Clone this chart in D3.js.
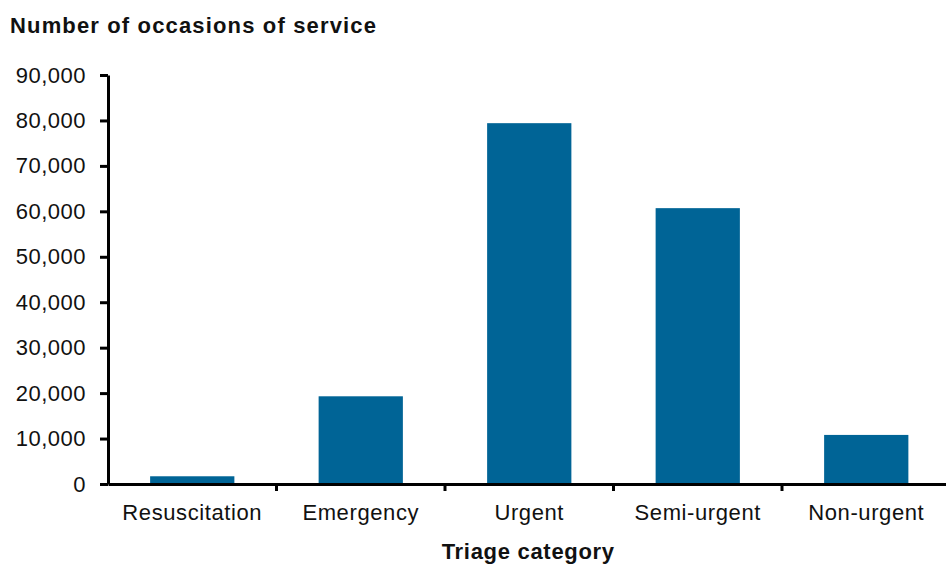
<!DOCTYPE html>
<html>
<head>
<meta charset="utf-8">
<script src="https://cdn.jsdelivr.net/npm/d3@7"></script>
<style>
  html, body { margin: 0; padding: 0; background: #fff; }
  svg { display: block; }
  text { font-family: "Liberation Sans", Arial, sans-serif; fill: #111; }
</style>
</head>
<body>
<svg id="chart" width="946" height="564"></svg>
<script>
const categories = ["Resuscitation", "Emergency", "Urgent", "Semi-urgent", "Non-urgent"];
const values = [1700, 19300, 79400, 60700, 10800];
const yTicks = [0, 10000, 20000, 30000, 40000, 50000, 60000, 70000, 80000, 90000];
const yTitle = "Number of occasions of service";
const xTitle = "Triage category";

const svg = d3.select("#chart");
const plotLeft = 108, plotRight = 950.5, plotTop = 75, plotBottom = 484;

const x = d3.scaleBand().domain(categories).range([plotLeft, plotRight]).paddingInner(0.5).paddingOuter(0.25);
const y = d3.scaleLinear().domain([0, 90000]).range([plotBottom, plotTop]);

// bars
svg.append("g").selectAll("rect").data(categories).join("rect")
  .attr("x", d => x(d))
  .attr("width", x.bandwidth())
  .attr("y", (d, i) => y(values[i]))
  .attr("height", (d, i) => y(0) - y(values[i]))
  .attr("fill", "#006496");

// y axis
const yAxis = d3.axisLeft(y).tickValues(yTicks).tickSize(8).tickSizeOuter(0).tickPadding(14)
  .tickFormat(d3.format(","));
const gy = svg.append("g").attr("transform", `translate(${plotLeft},0)`).call(yAxis);
gy.select(".domain").attr("stroke", "#000").attr("stroke-width", 3);
gy.selectAll(".tick line").attr("stroke", "#000").attr("stroke-width", 3);
gy.selectAll(".tick text").attr("font-size", 22).attr("letter-spacing", "0.5px")
  .style("font-family", "'Liberation Sans', Arial, sans-serif").attr("fill", "#111");

// x axis
const xAxis = d3.axisBottom(x).tickSize(0).tickSizeOuter(0).tickPadding(20);
const gx = svg.append("g").attr("transform", `translate(0,${plotBottom})`).call(xAxis);
gx.select(".domain").attr("stroke", "#000").attr("stroke-width", 3);
gx.selectAll(".tick text").attr("font-size", 22).attr("letter-spacing", "0.6px")
  .style("font-family", "'Liberation Sans', Arial, sans-serif").attr("fill", "#111");

// category boundary ticks
const step = x.step();
const bounds = categories.map(c => x(c) + x.bandwidth() + (step - x.bandwidth()) / 2);
gx.selectAll("line.bound").data(bounds).join("line").attr("class", "bound")
  .attr("x1", d => d).attr("x2", d => d).attr("y1", 0).attr("y2", 7)
  .attr("stroke", "#000").attr("stroke-width", 3);

// titles
svg.append("text").attr("x", 10).attr("y", 33)
  .attr("font-size", 22).attr("font-weight", "bold").attr("letter-spacing", "1.15px")
  .text(yTitle);
svg.append("text").attr("x", (plotLeft + plotRight) / 2 - 1).attr("y", 559)
  .attr("text-anchor", "middle")
  .attr("font-size", 22).attr("font-weight", "bold").attr("letter-spacing", "0.7px")
  .text(xTitle);
</script>
</body>
</html>
